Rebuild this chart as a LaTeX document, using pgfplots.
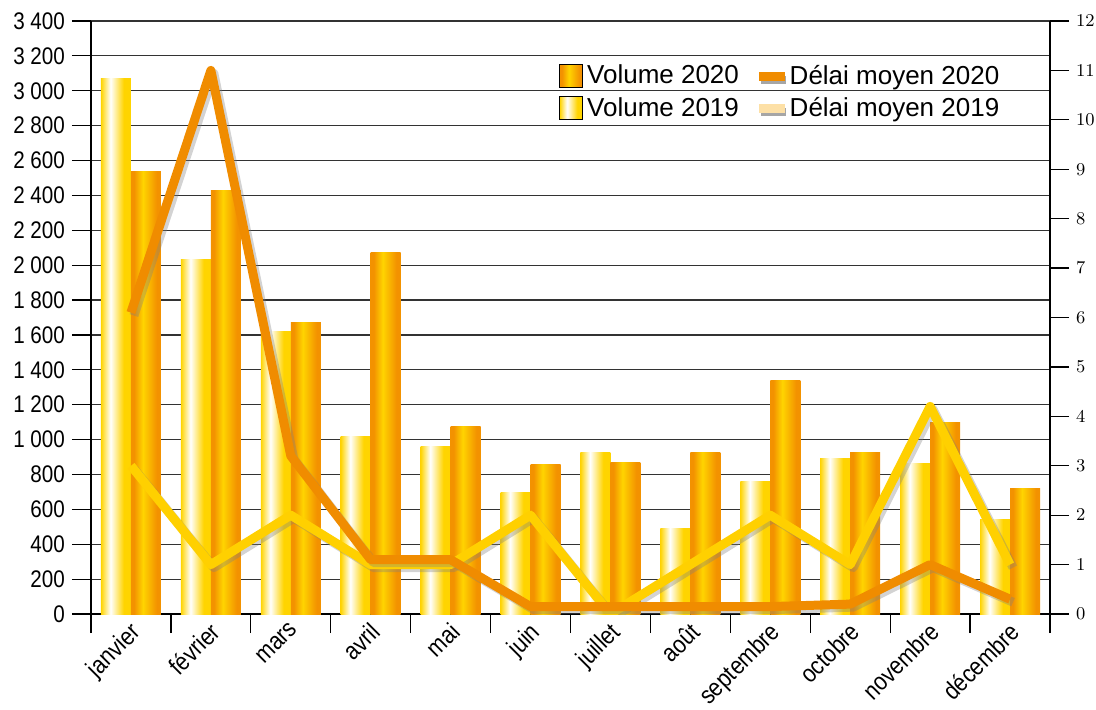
\documentclass[border=0pt]{standalone}
\usepackage{fontspec}
\setmainfont{Liberation Sans}
\newfontfamily\condfont{Liberation Sans}[FakeStretch=0.86]
\usepackage{pgfplots}
\usepackage{pgfplotstable}
\pgfplotsset{compat=1.18}
\definecolor{yel}{HTML}{FFD400}
\definecolor{org}{HTML}{F39200}
\definecolor{lineA}{HTML}{F08C00}
\definecolor{lineB}{HTML}{FFD000}
\definecolor{legB}{HTML}{FDE0A6}
\pgfdeclarehorizontalshading{volA}{100bp}{color(0bp)=(yel); color(25bp)=(yel); color(41bp)=(white); color(63bp)=(yel); color(75bp)=(yel); color(100bp)=(yel)}
\pgfdeclarehorizontalshading{volB}{100bp}{color(0bp)=(org); color(25bp)=(org); color(30bp)=(org); color(45bp)=(yel); color(68bp)=(org); color(75bp)=(org); color(100bp)=(org)}
\pgfplotstableread{
x v19 v20 d19 d20
0 3070 2540 3.0 6.1
1 2035 2430 1.0 11.0
2 1620 1670 2.0 3.2
3 1020 2070 1.0 1.1
4 960 1075 1.0 1.1
5 695 860 2.0 0.15
6 925 870 0.0 0.15
7 490 925 1.0 0.15
8 760 1340 2.0 0.15
9 890 925 1.0 0.2
10 865 1100 4.2 1.0
11 540 720 1.0 0.3
}\datatable
\begin{document}
\begin{tikzpicture}
\useasboundingbox (-45.5pt,-47.5pt) rectangle (502.5pt,307pt);
\begin{axis}[
 scale only axis, width=479.5pt, height=296.5pt,
 xmin=-0.5, xmax=11.5, ymin=0, ymax=3400,
 axis x line*=bottom, axis y line*=left,
 axis line style={-, black, line width=0.6pt},
 xtick={-0.5,0.5,...,11.5}, x tick label as interval,
 xticklabels={janvier,février,mars,avril,mai,juin,juillet,août,septembre,octobre,novembre,décembre},
 ytick={0,200,...,3400},
 ymajorgrids, grid style={black!80, line width=0.6pt},
 tick align=outside, major tick length=9.5pt,
 tick style={black, line width=0.6pt},
 scaled y ticks=false,
 /pgf/number format/assume math mode=true,
 /pgf/number format/1000 sep={\ },
 yticklabel style={font=\condfont\fontsize{12}{14}\selectfont},
 xticklabel style={font=\condfont\fontsize{12.5}{15}\selectfont, xshift=-1pt, yshift=11pt, rotate=45, anchor=north east},
]
\pgfplotsinvokeforeach{0,...,11}{
\addplot[ybar, bar width=15pt, bar shift=-7.5pt, draw=none, shading=volA, x filter/.expression={abs(x-#1)<0.1 ? x : nan}] table[x=x,y=v19]{\datatable};
\addplot[ybar, bar width=15pt, bar shift=7.5pt, draw=none, shading=volB, x filter/.expression={abs(x-#1)<0.1 ? x : nan}] table[x=x,y=v20]{\datatable};
}
\end{axis}
\begin{axis}[
 scale only axis, width=479.5pt, height=296.5pt,
 xmin=-0.5, xmax=11.5, ymin=0, ymax=12,
 axis x line=none, axis y line*=right,
 axis line style={-, black, line width=0.6pt},
 ytick={0,1,...,12}, tick align=outside, major tick length=9.5pt,
 tick style={black, line width=0.6pt},
 yticklabel style={font=\condfont\fontsize{9.5}{11}\selectfont},
 legend columns=2,
 legend style={at={(0.958,0.94)}, anchor=north east, draw=none, fill=none,
   font=\fontsize{13}{15}\selectfont, row sep=1pt,
   /tikz/every odd column/.style={column sep=0pt},
   /tikz/every even column/.style={column sep=8pt},
   nodes={inner xsep=2pt}},
 legend cell align=left,
]
\addlegendimage{legend image code/.code={\fill[shading=volB] (0pt,-5.75pt) rectangle (11.5pt,5.75pt);}}
\addlegendentry{Volume 2020}
\addlegendimage{legend image code/.code={\fill[black!35] (1pt,-3.5pt) rectangle (13pt,0pt); \fill[lineA] (0pt,-2pt) rectangle (12.5pt,2pt);}}
\addlegendentry{Délai moyen 2020}
\addlegendimage{legend image code/.code={\fill[shading=volA] (0pt,-5.75pt) rectangle (11.5pt,5.75pt);}}
\addlegendentry{Volume 2019}
\addlegendimage{legend image code/.code={\fill[black!35] (1pt,-3.5pt) rectangle (13pt,0pt); \fill[legB] (0pt,-2pt) rectangle (12.5pt,2pt);}}
\addlegendentry{Délai moyen 2019}
\addplot[forget plot, black!50, opacity=0.35, line width=4.5pt, line join=round, xshift=1.5pt, yshift=-1.5pt] table[x=x,y=d19]{\datatable};
\addplot[forget plot, lineB, line width=4.5pt, line join=round] table[x=x,y=d19]{\datatable};
\addplot[forget plot, black!50, opacity=0.35, line width=4.5pt, line join=round, xshift=1.5pt, yshift=-1.5pt] table[x=x,y=d20]{\datatable};
\addplot[forget plot, lineA, line width=4.5pt, line join=round] table[x=x,y=d20]{\datatable};
\end{axis}
\end{tikzpicture}
\end{document}
